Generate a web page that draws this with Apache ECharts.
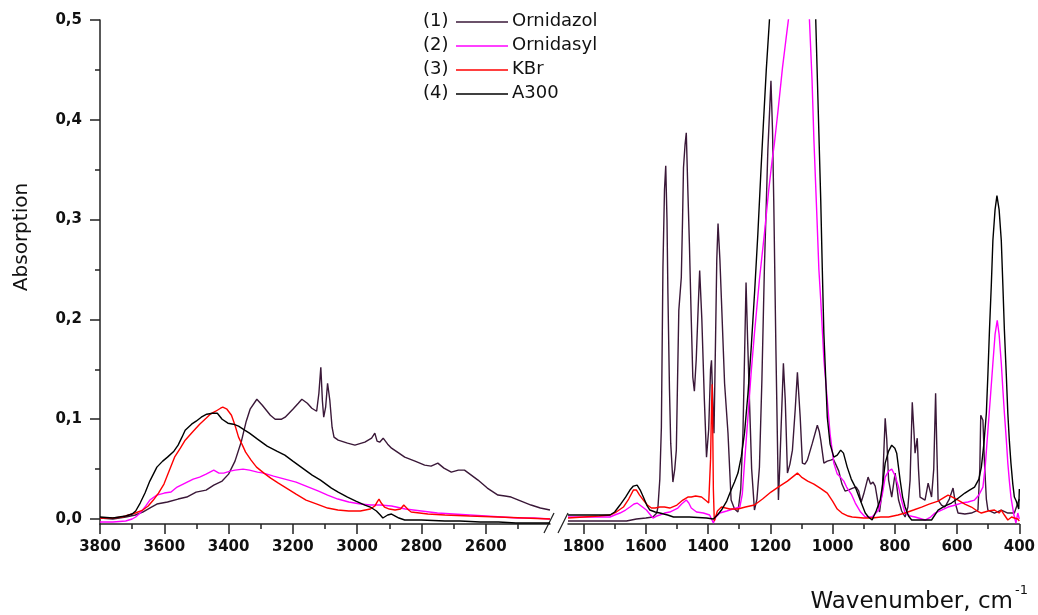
<!DOCTYPE html>
<html><head><meta charset="utf-8">
<script src="https://cdn.jsdelivr.net/npm/echarts@6.0.0/dist/echarts.min.js"></script>
<style>html,body{margin:0;padding:0;background:#fff}#c{width:1038px;height:615px}</style>
</head><body><div id="c"></div>
<script>
// ---- tick values ----
const leftMajorTicks = [3800, 3600, 3400, 3200, 3000, 2800, 2600];
const leftMinorTicks = [3700, 3500, 3300, 3100, 2900, 2700, 2500];
const rightMajorTicks = [1800, 1600, 1400, 1200, 1000, 800, 600, 400];
const rightMinorTicks = [1700, 1500, 1300, 1100, 900, 700, 500];
const yMajorTicks = [0, 0.1, 0.2, 0.3, 0.4, 0.5];
const yMinorTicks = [0.05, 0.15, 0.25, 0.35, 0.45];

const seriesNames = ['Ornidazol', 'Ornidasyl', 'KBr', 'A300'];
const seriesColors = ['#3a1838', '#ff00ff', '#ff0000', '#000000'];

// ---- (1) Ornidazol ----
const ornidazolLeft = [[3800,0.001],[3760,0.000],[3720,0.002],[3690,0.004],[3667,0.007],[3640,0.012],[3623,0.015],[3590,0.017],[3557,0.020],[3530,0.022],[3501,0.027],[3470,0.029],[3446,0.034],[3420,0.038],[3400,0.045],[3380,0.058],[3360,0.078],[3345,0.098],[3333,0.110],[3312,0.120],[3295,0.114],[3270,0.104],[3255,0.100],[3235,0.100],[3224,0.102],[3200,0.110],[3183,0.116],[3172,0.120],[3155,0.116],[3141,0.111],[3126,0.108],[3119,0.126],[3113,0.152],[3108,0.118],[3104,0.102],[3098,0.112],[3092,0.136],[3085,0.119],[3078,0.092],[3072,0.082],[3059,0.079],[3030,0.076],[3007,0.074],[2976,0.077],[2955,0.081],[2945,0.086],[2938,0.078],[2930,0.077],[2919,0.081],[2905,0.075],[2893,0.071],[2870,0.066],[2852,0.062],[2820,0.058],[2790,0.054],[2770,0.053],[2749,0.056],[2730,0.051],[2707,0.047],[2685,0.049],[2666,0.049],[2645,0.044],[2624,0.039],[2595,0.031],[2562,0.024],[2540,0.023],[2521,0.022],[2490,0.018],[2459,0.014],[2430,0.011],[2400,0.009]];
const ornidazolRight = [[1850,-0.002],[1800,-0.002],[1750,-0.002],[1700,-0.002],[1662,-0.002],[1630,0.000],[1600,0.001],[1577,0.002],[1565,0.006],[1561,0.012],[1555,0.040],[1550,0.092],[1545,0.252],[1540,0.330],[1536,0.354],[1532,0.300],[1529,0.226],[1524,0.130],[1520,0.076],[1513,0.037],[1507,0.050],[1502,0.069],[1498,0.140],[1494,0.209],[1486,0.242],[1482,0.300],[1479,0.352],[1474,0.375],[1470,0.387],[1465,0.330],[1460,0.276],[1454,0.200],[1449,0.142],[1444,0.128],[1438,0.160],[1432,0.210],[1427,0.249],[1420,0.200],[1412,0.120],[1405,0.062],[1398,0.090],[1392,0.150],[1389,0.159],[1384,0.110],[1381,0.086],[1376,0.180],[1372,0.260],[1368,0.296],[1362,0.260],[1357,0.219],[1347,0.136],[1336,0.086],[1326,0.019],[1315,0.010],[1304,0.007],[1295,0.030],[1288,0.086],[1283,0.160],[1278,0.237],[1273,0.180],[1267,0.119],[1260,0.050],[1251,0.009],[1243,0.020],[1235,0.052],[1227,0.140],[1219,0.252],[1208,0.369],[1198,0.439],[1193,0.390],[1189,0.319],[1182,0.169],[1174,0.019],[1170,0.050],[1166,0.086],[1158,0.156],[1152,0.119],[1145,0.046],[1137,0.055],[1129,0.069],[1120,0.110],[1113,0.147],[1104,0.102],[1097,0.056],[1089,0.055],[1081,0.059],[1065,0.076],[1049,0.094],[1043,0.088],[1038,0.079],[1028,0.056],[1017,0.058],[1006,0.059],[998,0.060],[990,0.055],[980,0.048],[970,0.035],[960,0.028],[950,0.029],[935,0.031],[924,0.032],[916,0.028],[908,0.017],[900,0.025],[886,0.042],[878,0.035],[870,0.037],[863,0.033],[856,0.020],[849,0.007],[840,0.030],[835,0.070],[831,0.101],[826,0.080],[820,0.039],[810,0.022],[799,0.046],[788,0.019],[778,0.008],[767,0.002],[758,0.012],[751,0.039],[744,0.117],[739,0.090],[735,0.066],[728,0.081],[724,0.050],[719,0.022],[703,0.019],[693,0.036],[682,0.022],[675,0.050],[669,0.126],[665,0.070],[661,0.019],[650,0.014],[639,0.012],[625,0.020],[613,0.031],[605,0.015],[597,0.006],[575,0.005],[554,0.006],[533,0.009],[527,0.050],[524,0.104],[517,0.099],[512,0.056],[506,0.020],[501,0.009],[480,0.006],[458,0.009],[437,0.006],[416,0.006],[405,0.016],[400,0.020]];

// ---- (2) Ornidasyl ----
const ornidasylLeft = [[3800,-0.003],[3760,-0.003],[3720,-0.002],[3700,0.000],[3689,0.002],[3675,0.006],[3660,0.012],[3645,0.019],[3623,0.024],[3600,0.026],[3579,0.027],[3560,0.032],[3535,0.036],[3510,0.040],[3490,0.042],[3470,0.045],[3446,0.049],[3430,0.046],[3415,0.046],[3395,0.048],[3380,0.049],[3355,0.050],[3335,0.049],[3310,0.047],[3291,0.046],[3260,0.043],[3225,0.040],[3190,0.037],[3159,0.033],[3120,0.028],[3092,0.024],[3060,0.020],[3026,0.017],[2990,0.015],[2959,0.014],[2930,0.014],[2893,0.013],[2850,0.010],[2800,0.008],[2750,0.006],[2700,0.005],[2650,0.004],[2600,0.003],[2550,0.002],[2500,0.001],[2450,0.001],[2400,0.000]];
const ornidasylRight = [[1850,0.002],[1800,0.002],[1750,0.002],[1715,0.002],[1700,0.004],[1683,0.006],[1665,0.009],[1651,0.012],[1638,0.015],[1628,0.016],[1615,0.013],[1598,0.009],[1585,0.004],[1577,0.001],[1565,0.003],[1555,0.004],[1540,0.006],[1523,0.007],[1510,0.009],[1497,0.011],[1485,0.015],[1470,0.019],[1462,0.016],[1454,0.011],[1437,0.007],[1415,0.006],[1395,0.004],[1383,-0.004],[1375,0.002],[1362,0.006],[1340,0.008],[1320,0.010],[1298,0.012],[1290,0.025],[1282,0.060],[1272,0.102],[1262,0.145],[1251,0.186],[1235,0.240],[1219,0.286],[1205,0.330],[1194,0.360],[1187,0.376],[1175,0.410],[1161,0.452],[1150,0.480],[1140,0.505],[1120,0.580],[1100,0.620],[1085,0.570],[1075,0.505],[1066,0.440],[1060,0.380],[1050,0.300],[1044,0.250],[1038,0.219],[1028,0.160],[1017,0.119],[1008,0.085],[996,0.056],[985,0.045],[975,0.042],[964,0.038],[955,0.032],[940,0.025],[927,0.016],[910,0.007],[895,0.002],[873,0.002],[852,0.009],[840,0.025],[831,0.042],[820,0.048],[810,0.050],[800,0.044],[788,0.032],[778,0.018],[767,0.006],[750,0.003],[735,0.002],[703,-0.001],[685,0.002],[671,0.006],[650,0.009],[629,0.012],[605,0.014],[586,0.016],[565,0.017],[544,0.019],[530,0.024],[517,0.032],[509,0.055],[501,0.089],[493,0.122],[485,0.156],[478,0.185],[471,0.199],[465,0.185],[458,0.156],[453,0.130],[448,0.106],[442,0.080],[437,0.056],[432,0.038],[427,0.022],[418,0.005],[411,-0.004],[405,0.006],[400,0.000]];

// ---- (3) KBr ----
const kbrLeft = [[3800,0.001],[3760,0.001],[3730,0.002],[3711,0.004],[3690,0.006],[3667,0.009],[3650,0.013],[3634,0.019],[3618,0.026],[3601,0.035],[3585,0.048],[3568,0.062],[3550,0.071],[3535,0.079],[3510,0.088],[3490,0.095],[3470,0.101],[3457,0.105],[3440,0.108],[3425,0.111],[3418,0.112],[3405,0.110],[3391,0.104],[3380,0.094],[3369,0.082],[3357,0.074],[3347,0.067],[3330,0.059],[3313,0.052],[3290,0.046],[3269,0.041],[3245,0.036],[3225,0.032],[3190,0.025],[3159,0.019],[3125,0.015],[3092,0.011],[3060,0.009],[3026,0.008],[2990,0.008],[2959,0.010],[2945,0.013],[2938,0.017],[2932,0.020],[2925,0.016],[2915,0.012],[2900,0.010],[2882,0.009],[2865,0.010],[2855,0.014],[2849,0.014],[2840,0.009],[2832,0.007],[2780,0.005],[2727,0.004],[2650,0.003],[2561,0.002],[2480,0.001],[2400,0.000]];
const kbrRight = [[1850,0.001],[1800,0.002],[1750,0.003],[1715,0.004],[1695,0.007],[1672,0.012],[1655,0.020],[1640,0.029],[1630,0.029],[1620,0.024],[1608,0.019],[1595,0.014],[1582,0.011],[1570,0.011],[1555,0.012],[1540,0.012],[1523,0.011],[1500,0.014],[1481,0.019],[1465,0.022],[1454,0.022],[1440,0.023],[1421,0.022],[1405,0.018],[1398,0.016],[1392,0.060],[1389,0.110],[1387,0.135],[1385,0.090],[1383,0.030],[1380,-0.002],[1370,0.008],[1357,0.012],[1330,0.010],[1304,0.010],[1280,0.012],[1251,0.014],[1225,0.020],[1198,0.027],[1170,0.033],[1145,0.038],[1125,0.043],[1113,0.046],[1100,0.042],[1080,0.038],[1060,0.035],[1040,0.031],[1017,0.026],[1000,0.018],[985,0.010],[970,0.006],[950,0.003],[937,0.002],[900,0.001],[873,0.001],[845,0.002],[820,0.002],[790,0.004],[767,0.006],[740,0.009],[714,0.012],[690,0.015],[661,0.018],[640,0.022],[629,0.024],[615,0.022],[597,0.019],[575,0.015],[554,0.012],[535,0.008],[522,0.006],[500,0.008],[480,0.009],[465,0.006],[458,0.009],[448,0.004],[437,-0.001],[425,0.002],[416,0.001],[405,0.000],[400,-0.002]];

// ---- (4) A300 ----
const a300Left = [[3800,0.002],[3760,0.001],[3720,0.003],[3700,0.005],[3689,0.008],[3675,0.016],[3660,0.026],[3645,0.038],[3623,0.052],[3605,0.058],[3590,0.062],[3570,0.068],[3557,0.074],[3545,0.082],[3535,0.089],[3515,0.095],[3501,0.098],[3485,0.102],[3468,0.105],[3450,0.106],[3435,0.106],[3420,0.100],[3402,0.096],[3385,0.095],[3369,0.093],[3350,0.089],[3335,0.086],[3310,0.080],[3280,0.073],[3250,0.068],[3225,0.064],[3200,0.058],[3170,0.051],[3140,0.044],[3114,0.039],[3080,0.031],[3059,0.027],[3030,0.022],[3004,0.018],[2976,0.014],[2959,0.012],[2940,0.008],[2928,0.004],[2920,0.001],[2905,0.004],[2893,0.005],[2870,0.001],[2852,-0.001],[2800,-0.001],[2727,-0.002],[2680,-0.002],[2617,-0.003],[2560,-0.003],[2506,-0.004],[2450,-0.004],[2400,-0.004]];
const a300Right = [[1850,0.004],[1800,0.004],[1750,0.004],[1715,0.004],[1700,0.007],[1683,0.014],[1665,0.022],[1651,0.029],[1640,0.033],[1628,0.034],[1618,0.029],[1608,0.022],[1597,0.014],[1587,0.009],[1570,0.007],[1555,0.006],[1530,0.004],[1511,0.002],[1460,0.002],[1405,0.001],[1383,0.000],[1370,0.004],[1357,0.009],[1340,0.018],[1326,0.029],[1315,0.037],[1304,0.046],[1293,0.063],[1283,0.086],[1272,0.125],[1262,0.169],[1250,0.230],[1240,0.286],[1230,0.350],[1224,0.386],[1213,0.450],[1203,0.499],[1190,0.580],[1160,0.850],[1130,1.050],[1100,1.150],[1080,1.000],[1065,0.750],[1054,0.499],[1047,0.420],[1038,0.319],[1033,0.250],[1028,0.186],[1017,0.102],[1008,0.075],[996,0.062],[985,0.064],[974,0.069],[965,0.066],[953,0.052],[940,0.040],[927,0.032],[910,0.018],[895,0.006],[885,0.002],[873,-0.001],[860,0.008],[847,0.019],[839,0.035],[831,0.056],[820,0.068],[810,0.074],[800,0.071],[794,0.066],[783,0.039],[775,0.022],[767,0.012],[756,0.003],[746,-0.001],[700,-0.001],[682,-0.001],[661,0.009],[640,0.013],[618,0.016],[600,0.020],[575,0.026],[560,0.029],[544,0.032],[530,0.040],[522,0.052],[514,0.075],[506,0.106],[501,0.145],[496,0.189],[490,0.235],[485,0.279],[478,0.310],[472,0.324],[465,0.310],[458,0.279],[453,0.235],[448,0.189],[442,0.145],[437,0.106],[432,0.078],[427,0.056],[421,0.035],[416,0.022],[410,0.018],[405,0.016],[402,0.010],[400,0.030]];

const leftData = [ornidazolLeft, ornidasylLeft, kbrLeft, a300Left];
const rightData = [ornidazolRight, ornidasylRight, kbrRight, a300Right];

// ---- chart ----
const FONT = 'DejaVu Sans';
const AXIS_COLOR = '#222';
const chart = echarts.init(document.getElementById('c'), null, {renderer: 'canvas'});

function xAxisMajor(gridIndex, min, max, ticks) {
  return {
    type: 'value', gridIndex, min, max, inverse: true, position: 'bottom',
    axisLine: {show: true, onZero: false, lineStyle: {color: AXIS_COLOR, width: 1.5}},
    axisTick: {show: true, inside: false, length: 10, customValues: ticks, lineStyle: {color: AXIS_COLOR, width: 1.5}},
    axisLabel: {show: true, customValues: ticks, margin: 16, color: '#111', fontFamily: FONT, fontWeight: 'bold', fontSize: 15,
      formatter: v => String(Math.round(v))},
    splitLine: {show: false}
  };
}
function xAxisMinor(gridIndex, min, max, ticks) {
  return {
    type: 'value', gridIndex, min, max, inverse: true, position: 'bottom',
    axisLine: {show: false, onZero: false},
    axisTick: {show: true, inside: false, length: 5, customValues: ticks, lineStyle: {color: AXIS_COLOR, width: 1.5}},
    axisLabel: {show: false},
    splitLine: {show: false}
  };
}

const series = [];
seriesNames.forEach((name, i) => {
  series.push({
    name, type: 'line', xAxisIndex: 0, yAxisIndex: 0, data: leftData[i],
    showSymbol: false, symbol: 'none', clip: true,
    lineStyle: {color: seriesColors[i], width: 1.4}, z: 2 + i
  });
  series.push({
    name, type: 'line', xAxisIndex: 2, yAxisIndex: 2, data: rightData[i],
    showSymbol: false, symbol: 'none', clip: true,
    lineStyle: {color: seriesColors[i], width: 1.4}, z: 2 + i
  });
});

// legend as graphic
const legendRowsY = [21, 45, 69, 93];
const graphics = [];
seriesNames.forEach((name, i) => {
  const y = legendRowsY[i];
  graphics.push({type: 'text', x: 423, y, style: {text: '(' + (i + 1) + ')', fontFamily: FONT, fontSize: 18, fill: '#111', textAlign: 'left', textVerticalAlign: 'middle'}});
  graphics.push({type: 'line', shape: {x1: 456, y1: y + 1, x2: 508, y2: y + 1}, style: {stroke: seriesColors[i], lineWidth: 1.5}});
  graphics.push({type: 'text', x: 512, y, style: {text: name, fontFamily: FONT, fontSize: 18, fill: '#111', textAlign: 'left', textVerticalAlign: 'middle'}});
});
// axis titles
graphics.push({type: 'text', x: 22, y: 237, rotation: Math.PI / 2, style: {text: 'Absorption', fontFamily: FONT, fontSize: 20, fill: '#111', textAlign: 'center', textVerticalAlign: 'middle'}});
graphics.push({type: 'text', x: 1013, y: 602, style: {text: 'Wavenumber, cm', fontFamily: FONT, fontSize: 23, fill: '#111', textAlign: 'right', textVerticalAlign: 'middle'}});
graphics.push({type: 'text', x: 1015, y: 591, style: {text: '-1', fontFamily: FONT, fontSize: 13, fill: '#111', textAlign: 'left', textVerticalAlign: 'middle'}});
// axis break marks
graphics.push({type: 'line', shape: {x1: 544, y1: 533, x2: 554, y2: 513}, style: {stroke: AXIS_COLOR, lineWidth: 1.2}});
graphics.push({type: 'line', shape: {x1: 558, y1: 533, x2: 568, y2: 513}, style: {stroke: AXIS_COLOR, lineWidth: 1.2}});

const option = {
  animation: false,
  backgroundColor: '#fff',
  grid: [
    {left: 100, top: 20, width: 450, height: 504},
    {left: 568, top: 20, width: 452, height: 504}
  ],
  xAxis: [
    xAxisMajor(0, 2400, 3800, leftMajorTicks),
    xAxisMinor(0, 2400, 3800, leftMinorTicks),
    xAxisMajor(1, 400, 1850, rightMajorTicks),
    xAxisMinor(1, 400, 1850, rightMinorTicks)
  ],
  yAxis: [
    {
      type: 'value', gridIndex: 0, min: -0.005, max: 0.5, position: 'left',
      axisLine: {show: true, onZero: false, lineStyle: {color: AXIS_COLOR, width: 1.5}},
      axisTick: {show: true, inside: false, length: 10, customValues: yMajorTicks, lineStyle: {color: AXIS_COLOR, width: 1.5}},
      axisLabel: {show: true, customValues: yMajorTicks, margin: 18, color: '#111', fontFamily: FONT, fontWeight: 'bold', fontSize: 15,
        formatter: v => v.toFixed(1).replace('.', ',')},
      splitLine: {show: false}
    },
    {
      type: 'value', gridIndex: 0, min: -0.005, max: 0.5, position: 'left',
      axisLine: {show: false, onZero: false},
      axisTick: {show: true, inside: false, length: 5, customValues: yMinorTicks, lineStyle: {color: AXIS_COLOR, width: 1.5}},
      axisLabel: {show: false},
      splitLine: {show: false}
    },
    {
      type: 'value', gridIndex: 1, min: -0.005, max: 0.5, show: false,
      axisLine: {onZero: false}, splitLine: {show: false}
    }
  ],
  series,
  graphic: graphics
};
chart.setOption(option);
</script></body></html>
